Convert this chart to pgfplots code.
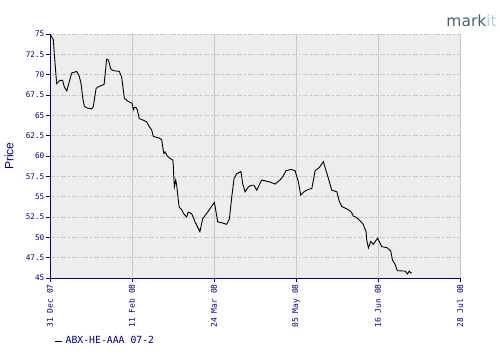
\documentclass[border=0pt]{standalone}
\usepackage{pgfplots}
\pgfplotsset{compat=1.18}
\usepackage{fontspec}
\setmainfont{DejaVu Sans}
\newfontfamily\monofont{DejaVu Sans Mono}
\newfontfamily\arialfont{Liberation Sans}
\definecolor{navy}{RGB}{0,0,128}
\definecolor{plotbg}{RGB}{237,237,237}
\definecolor{gridc}{RGB}{200,200,200}
\definecolor{logodark}{RGB}{70,100,118}
\definecolor{logolight}{RGB}{170,210,220}
\begin{document}
\begin{tikzpicture}[x=1pt,y=1pt]
\path[use as bounding box] (0,0) rectangle (500,360);
\begin{axis}[
  at={(50pt,82pt)}, anchor=south west,
  scale only axis, width=410pt, height=244pt,
  xmin=0, xmax=210, ymin=45, ymax=75,
  axis x line*=bottom, axis y line*=left,
  axis line style={navy, line width=0.9pt, -},
  axis background/.style={fill=plotbg},
  xtick={0,42,84,126,168,210},
  xticklabels={31 Dec 07,11 Feb 08,24 Mar 08,05 May 08,16 Jun 08,28 Jul 08},
  ytick={45,47.5,50,52.5,55,57.5,60,62.5,65,67.5,70,72.5,75},
  yticklabel={\pgfmathprintnumber[fixed,precision=1]{\tick}},
  /pgf/number format/assume math mode=true,
  tick align=outside, major tick length=4pt,
  tick style={navy, line width=0.8pt},
  xticklabel style={rotate=90, anchor=east, font=\monofont\fontsize{8}{8}\selectfont, text=navy, inner sep=2pt},
  yticklabel style={font=\monofont\fontsize{7.7}{8}\selectfont, text=navy, inner sep=1.5pt},
  xmajorgrids, ymajorgrids,
  x grid style={gridc, line width=0.9pt, solid},
  y grid style={gridc, line width=0.9pt, dash pattern=on 5pt off 2pt on 2pt off 2pt},
  ylabel={Price},
  ylabel style={at={(axis description cs:-0.1,0.5)}, anchor=center, rotate=0, font=\arialfont\fontsize{12}{14}\selectfont, text=navy},
  legend style={at={(axis description cs:0.011,-0.258)}, anchor=west, draw=none, fill=none,
    font=\monofont\fontsize{9.8}{11}\selectfont, text=navy, inner sep=0pt,
    nodes={inner xsep=3pt, inner ysep=1.5pt}},
  legend image code/.code={\draw[#1] (0pt,0pt) -- (7pt,0pt);},
  clip=false,
]
\addplot[black, line width=0.9pt] table {
x y
0 75
1.7 74.3
2.2 72.6
3.4 68.9
5.1 69.3
6.5 69.3
7.3 68.5
8.6 68.0
9.4 68.7
11.1 70.2
13.7 70.4
15.0 69.8
15.9 68.9
16.8 67.1
17.6 66.1
19.1 65.9
21.4 65.8
22.2 66.1
23.6 68.3
24.7 68.5
27.7 68.8
28.3 70.2
29.0 71.9
29.9 71.8
31.1 70.7
32.4 70.5
35.5 70.4
36.7 69.7
38.1 67.1
40.1 66.7
42.0 66.5
42.7 65.7
43.0 65.9
43.9 66.0
44.7 65.7
45.7 64.6
47.8 64.4
49.5 64.2
50.9 63.6
52.1 63.2
52.9 62.4
56.0 62.2
57.2 62.0
58.0 60.7
58.4 60.3
58.9 60.5
60.1 60.0
61.5 59.7
62.9 59.5
63.2 58.7
63.3 57.9
63.7 56.2
64.4 57.05
64.9 56.4
65.7 54.6
66.2 53.7
67.5 53.4
68.3 52.95
70.0 52.5
70.8 53.1
72.6 52.9
74.3 51.9
76.8 50.7
78.2 52.3
80.3 52.95
84.2 54.3
85.9 51.9
87.9 51.8
90.5 51.6
91.9 52.3
93.1 55.0
94.3 57.25
95.6 57.8
97.8 58.1
98.7 56.6
99.9 55.6
101.6 56.2
103.3 56.4
104.5 56.4
105.9 55.8
108.4 57.05
110.1 56.95
112.7 56.8
115.3 56.55
117.8 57.05
119.2 57.45
120.9 58.2
123.5 58.35
125.5 58.2
127.2 56.85
128.4 55.2
130.1 55.6
132.3 55.9
134.1 56.0
135.8 58.2
138.0 58.6
140.0 59.3
142.1 57.65
144.3 55.8
146.9 55.6
148.2 54.4
149.4 53.8
152.0 53.5
154.2 53.15
155.4 52.6
156.6 52.5
157.9 52.25
160.2 51.7
161.9 50.7
162.2 49.7
163.1 48.7
164.3 49.5
165.6 49.15
167.8 49.9
169.9 48.85
172.5 48.75
174.5 48.35
175.4 47.2
176.7 46.7
177.9 45.9
181.9 45.85
183.1 45.5
184.0 45.85
184.8 45.6
185.3 45.65
};
\addlegendentry{ABX-HE-AAA 07-2}
\end{axis}
\node[anchor=base east, inner sep=0pt, font=\fontsize{15.5}{16}\selectfont] at (497,334) {\textcolor{logodark}{mark}\textcolor{logolight}{it}};
\end{tikzpicture}
\end{document}
